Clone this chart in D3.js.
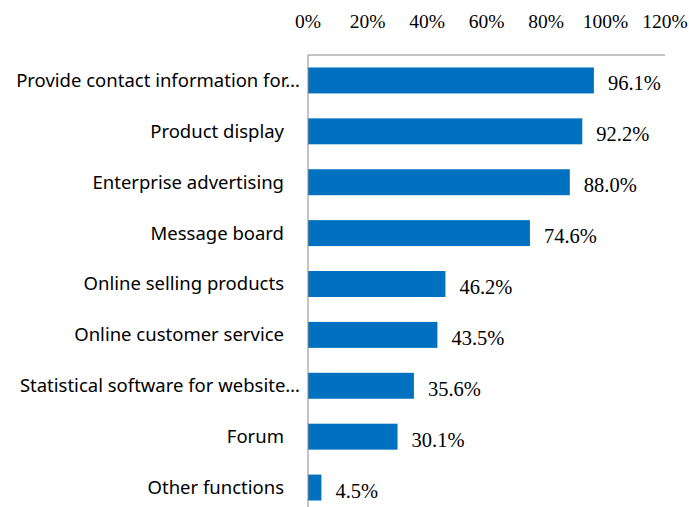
<!DOCTYPE html>
<html>
<head>
<meta charset="utf-8">
<script src="https://cdn.jsdelivr.net/npm/d3@7"></script>
<style>
  body { margin: 0; background: #fff; }
  .tick-label { font-family: 'Liberation Serif', 'Times New Roman', serif; font-size: 19.5px; fill: #000; }
  .value-label { font-family: 'Liberation Serif', 'Times New Roman', serif; font-size: 20.5px; fill: #000; }
  .cat-label { font-family: 'Noto Sans', sans-serif; font-size: 18.5px; fill: #000; }
</style>
</head>
<body>
<div id="chart"></div>
<script>
const categories = [
  'Provide contact information for…',
  'Product display',
  'Enterprise advertising',
  'Message board',
  'Online selling products',
  'Online customer service',
  'Statistical software for website…',
  'Forum',
  'Other functions'
];
const values = [96.1, 92.2, 88.0, 74.6, 46.2, 43.5, 35.6, 30.1, 4.5];
const ticks = [0, 20, 40, 60, 80, 100, 120];

const W = 689, H = 507;
const margin = { top: 55, left: 308, right: 24 };

const svg = d3.select('#chart').append('svg')
  .attr('width', W)
  .attr('height', H);

const x = d3.scaleLinear()
  .domain([0, 120])
  .range([margin.left, W - margin.right]);

const y = d3.scaleBand()
  .domain(categories)
  .range([margin.top, margin.top + 458])
  .paddingInner(0.49)
  .paddingOuter(0.245);

// top axis line
svg.append('line')
  .attr('x1', x(0)).attr('x2', x(120))
  .attr('y1', margin.top).attr('y2', margin.top)
  .attr('stroke', '#888').attr('stroke-width', 1);

// tick labels
svg.selectAll('.tick-label')
  .data(ticks)
  .enter().append('text')
  .attr('class', 'tick-label')
  .attr('x', d => x(d))
  .attr('y', 28)
  .attr('text-anchor', 'middle')
  .text(d => d + '%');

// bars
svg.selectAll('.bar')
  .data(values)
  .enter().append('rect')
  .attr('class', 'bar')
  .attr('x', x(0))
  .attr('y', (d, i) => y(categories[i]))
  .attr('width', d => x(d) - x(0))
  .attr('height', y.bandwidth())
  .attr('fill', '#0070C0');

// value labels
svg.selectAll('.value-label')
  .data(values)
  .enter().append('text')
  .attr('class', 'value-label')
  .attr('x', d => x(d) + 14)
  .attr('y', (d, i) => y(categories[i]) + y.bandwidth() / 2 + 10)
  .text(d => d.toFixed(1) + '%');

// category labels (truncated ones run closer to the axis)
svg.selectAll('.cat-label')
  .data(categories)
  .enter().append('text')
  .attr('class', 'cat-label')
  .attr('x', d => d.endsWith('…') ? x(0) - 8 : x(0) - 24)
  .attr('y', d => y(d) + y.bandwidth() / 2)
  .attr('dy', '0.35em')
  .attr('text-anchor', 'end')
  .text(d => d);

// left axis line (drawn on top of bars)
svg.append('line')
  .attr('x1', x(0)).attr('x2', x(0))
  .attr('y1', margin.top).attr('y2', H)
  .attr('stroke', '#888').attr('stroke-width', 1);
</script>
</body>
</html>
